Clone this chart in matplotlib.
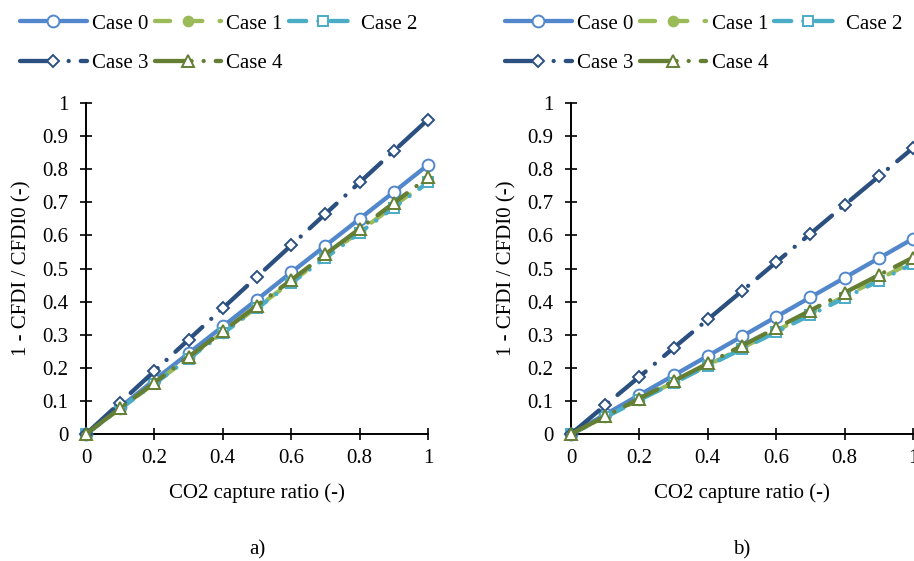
import matplotlib
matplotlib.use('Agg')
import matplotlib.pyplot as plt

plt.rcParams['font.family'] = ['Liberation Serif', 'DejaVu Serif']
plt.rcParams['font.size'] = 15

# capture ratio
capture = [0.0, 0.1, 0.2, 0.3, 0.4, 0.5, 0.6, 0.7, 0.8, 0.9, 1.0]

# panel a)
case0_a = [0, 0.081, 0.163, 0.244, 0.325, 0.406, 0.488, 0.569, 0.650, 0.731, 0.813]
case1_a = [0, 0.077, 0.153, 0.230, 0.306, 0.383, 0.459, 0.536, 0.612, 0.689, 0.765]
case2_a = [0, 0.076, 0.152, 0.228, 0.304, 0.380, 0.456, 0.532, 0.608, 0.684, 0.760]
case3_a = [0, 0.095, 0.190, 0.285, 0.380, 0.475, 0.570, 0.665, 0.760, 0.855, 0.950]
case4_a = [0, 0.078, 0.155, 0.233, 0.310, 0.388, 0.465, 0.543, 0.620, 0.698, 0.775]

# panel b)
case0_b = [0, 0.059, 0.118, 0.177, 0.236, 0.295, 0.354, 0.413, 0.472, 0.531, 0.590]
case1_b = [0, 0.052, 0.104, 0.156, 0.208, 0.260, 0.312, 0.364, 0.416, 0.468, 0.520]
case2_b = [0, 0.051, 0.103, 0.154, 0.206, 0.257, 0.308, 0.360, 0.411, 0.463, 0.514]
case3_b = [0, 0.087, 0.173, 0.260, 0.346, 0.432, 0.519, 0.605, 0.692, 0.778, 0.864]
case4_b = [0, 0.053, 0.107, 0.160, 0.213, 0.267, 0.320, 0.373, 0.427, 0.480, 0.533]

labels = ['Case 0', 'Case 1', 'Case 2', 'Case 3', 'Case 4']
xticks = [0, 0.2, 0.4, 0.6, 0.8, 1.0]
xticklabels = ['0', '0.2', '0.4', '0.6', '0.8', '1']
yticks = [0, 0.1, 0.2, 0.3, 0.4, 0.5, 0.6, 0.7, 0.8, 0.9, 1.0]
yticklabels = ['0', '0.1', '0.2', '0.3', '0.4', '0.5', '0.6', '0.7', '0.8', '0.9', '1']

styles = [
    dict(color='#5288CB', ls='-', marker='o', ms=8.5, mfc='white'),
    dict(color='#9BBB59', ls=(0, (3.5, 4)), marker='o', ms=7, mfc='#9BBB59'),
    dict(color='#4BACC6', ls=(0, (4, 2.8, 0.01, 2.8)), marker='s', ms=7, mfc='white'),
    dict(color='#2B5080', ls=(0, (8.5, 2.8, 0.01, 2.8)), marker='D', ms=6, mfc='white'),
    dict(color='#647F34', ls=(0, (8.5, 2.8, 0.01, 2.8)), marker='^', ms=9, mfc='white'),
]

W, H = 914, 561
fig = plt.figure(figsize=(W / 100, H / 100), dpi=100)


def panel(left_px, series, tag):
    ax = fig.add_axes([left_px / W, (H - 434) / H, 342 / W, 331 / H])
    handles = []
    for k, (ys, st) in enumerate(zip(series, styles)):
        h, = ax.plot(capture, ys, color=st['color'], ls=st['ls'], lw=3.1,
                     marker=st['marker'], ms=st['ms'], mfc=st['mfc'],
                     mec=st['color'], mew=1.4, dash_capstyle='round',
                     solid_capstyle='round', clip_on=False, zorder=3 + k,
                     label=labels[k])
        handles.append(h)
    ax.set_xlim(0, 1)
    ax.set_ylim(0, 1)
    ax.set_xticks(xticks, xticklabels)
    ax.set_yticks(yticks, yticklabels)
    for s in ['top', 'right']:
        ax.spines[s].set_visible(False)
    for s in ['left', 'bottom']:
        ax.spines[s].set_linewidth(1.4)
    ax.tick_params(direction='inout', length=9, width=1.2)
    ax.tick_params(axis='x', pad=6)
    ax.tick_params(axis='y', pad=8)
    ax.set_xlabel('CO2 capture ratio (-)')
    ax.set_ylabel('1 - CFDI / CFDI0 (-)')
    ax.xaxis.set_label_coords(0.5, -0.15)
    ax.yaxis.set_label_coords(-0.16, 0.5)
    order = [0, 3, 1, 4, 2]
    ax.legend([handles[i] for i in order], [labels[i] for i in order],
              loc='upper left', bbox_to_anchor=((left_px - 66) / W, 1 - 14 / H),
              bbox_transform=fig.transFigure, ncol=3, frameon=False,
              borderpad=0, borderaxespad=0, handlelength=3.2,
              handletextpad=0.25, columnspacing=0.3, labelspacing=0.95,
              numpoints=1)
    fig.text((left_px + 171) / W, 1 - 550 / H, tag, ha='center', va='center')
    return ax


panel(86, [case0_a, case1_a, case2_a, case3_a, case4_a], 'a)')
panel(571, [case0_b, case1_b, case2_b, case3_b, case4_b], 'b)')

fig.savefig('out.png', dpi=100)
